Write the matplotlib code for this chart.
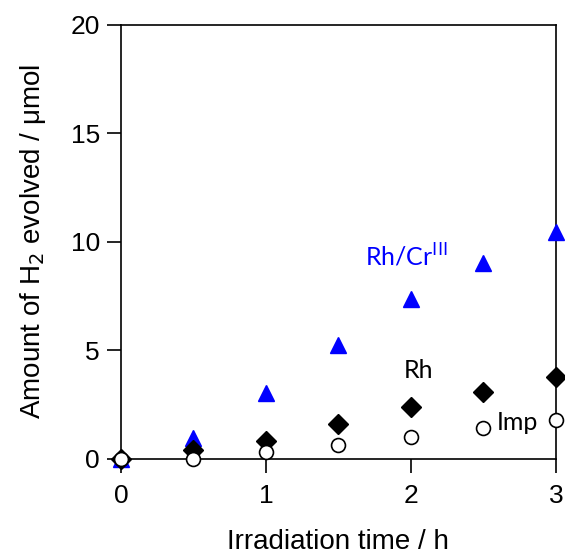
import numpy as np
from matplotlib import pyplot as plt

plt.rcParams["font.family"] = ["Liberation Sans", "DejaVu Sans"]

time_h = [0, 0.5, 1, 1.5, 2, 2.5, 3]
rh_cr = [0.0, 0.95, 3.05, 5.25, 7.35, 9.05, 10.45]
rh = [0.0, 0.4, 0.85, 1.6, 2.4, 3.1, 3.8]
imp = [0.0, 0.02, 0.3, 0.65, 1.0, 1.45, 1.8]

fig = plt.figure(figsize=(5.65, 5.54), dpi=100)
ax = fig.add_axes([0.214, 0.1715, 0.770, 0.7835])

ax.plot(time_h, rh_cr, "^", color="#0000ff", markersize=12, clip_on=False, zorder=3)
ax.plot(time_h, rh, "D", color="black", markersize=10, clip_on=False, zorder=4)
ax.plot(time_h, imp, "o", markerfacecolor="white", markeredgecolor="black",
        markersize=10, markeredgewidth=1.2, clip_on=False, zorder=5)

ax.set_xlim(0, 3)
ax.set_ylim(0, 20)
ax.set_xticks([0, 1, 2, 3])
ax.set_yticks([0, 5, 10, 15, 20])
ax.tick_params(direction="out", length=10, width=1.2, labelsize=19,
               top=False, right=False)
ax.tick_params(axis="x", pad=8)
ax.tick_params(axis="y", pad=5)
for s in ax.spines.values():
    s.set_linewidth(1.2)

ax.set_xlabel("Irradiation time / h", fontsize=20, labelpad=15)
ax.set_ylabel("Amount of H$_2$ evolved / μmol", fontsize=20, labelpad=16)

ax.text(1.68, 8.9, "Rh/Cr$^{\\mathrm{III}}$", color="#0000ff", fontsize=18,
        family="Lato")
ax.text(1.95, 3.75, "Rh", color="black", fontsize=18, family="Lato")
ax.text(2.59, 1.35, "Imp", color="black", fontsize=18, family="Lato")

plt.savefig("out.png")
